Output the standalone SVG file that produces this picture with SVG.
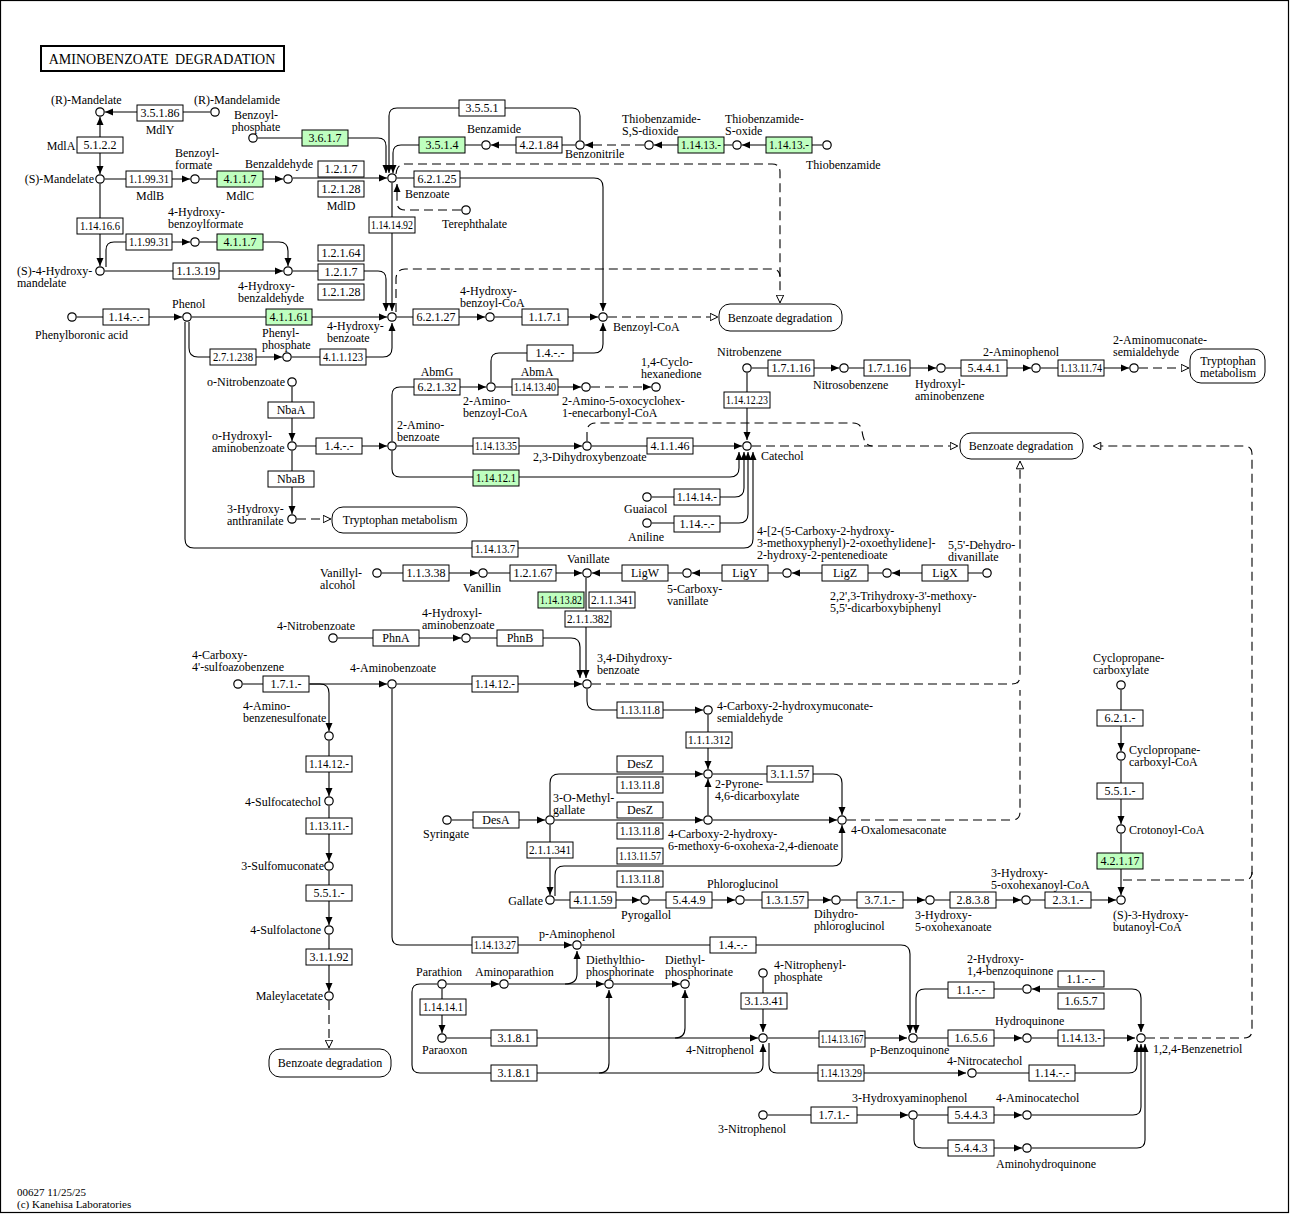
<svg xmlns="http://www.w3.org/2000/svg" width="1291" height="1214" viewBox="0 0 1291 1214">
<style>
text{font-family:"Liberation Serif","Times New Roman",serif;font-size:12px;fill:#000}
.c{fill:#fff;stroke:#000;stroke-width:1.2}
.e rect{fill:#fff;stroke:#000;stroke-width:1}
.g rect{fill:#bfffbf}
.e text{text-anchor:middle}
.m rect{fill:#fff;stroke:#000;stroke-width:1}
.m text{text-anchor:middle}
.l{fill:none;stroke:#000;stroke-width:1.1}
.d{stroke-dasharray:9 5}
.ar{marker-end:url(#a)}
.ao{marker-end:url(#o)}
.mid{text-anchor:middle}
.end{text-anchor:end}
</style>
<defs>
<marker id="a" markerWidth="9" markerHeight="8" refX="8" refY="4" orient="auto" markerUnits="userSpaceOnUse"><path d="M0,0.5 L8,4 L0,7.5z" fill="#000"/></marker>
<marker id="o" markerWidth="10" markerHeight="9" refX="8.5" refY="4.5" orient="auto" markerUnits="userSpaceOnUse"><path d="M0.7,0.8 L8.3,4.5 L0.7,8.2z" fill="#fff" stroke="#000" stroke-width="1"/></marker>
</defs>
<rect x="0.5" y="0.5" width="1288" height="1212" fill="#fff" stroke="#000" stroke-width="1.2"/>
<g id="title"><rect x="41" y="46" width="243" height="25" fill="#fff" stroke="#000" stroke-width="2"/><text x="162" y="64" class="mid" style="font-size:14px;word-spacing:3px">AMINOBENZOATE DEGRADATION</text></g>

<g id="connectors">
<path class="l ar" d="M210 112H105"/>
<path class="l ar" d="M100 145V117"/>
<path class="l ar" d="M100 145V174"/>
<path class="l ar" d="M105 179H190"/>
<path class="l ar" d="M200 179H283"/>
<path class="l ar" d="M293 178H387"/>
<path class="l ar" d="M100 184V266"/>
<path class="l ar" d="M106 267V250Q106 242 114 242H190"/>
<path class="l ar" d="M200 242H279Q288 242 288 251V266"/>
<path class="l ar" d="M105 271H283"/>
<path class="l ar" d="M258 138H378Q386 138 386 146V173"/>
<path class="l ar" d="M580 140V116Q580 108 572 108H397Q389 108 389 116V173"/>
<path class="l ar" d="M481 145H401Q393 145 393 153V173"/>
<path class="l ar" d="M575 145H491"/>
<path class="l d ar" d="M644 145H585"/>
<path class="l ar" d="M732 145H654"/>
<path class="l ar" d="M822 145H742"/>
<path class="l d ar" d="M461 210H405Q397 210 397 202V184"/>
<path class="l ar" d="M397 178H594Q603 178 603 187V311"/>
<path class="l ar" d="M392 183V311"/>
<path class="l ar" d="M293 271H378Q386 271 386 279V311"/>
<path class="l ar" d="M77 317H182"/>
<path class="l ar" d="M192 317H387"/>
<path class="l ar" d="M189 322V348Q189 357 198 357H282"/>
<path class="l ar" d="M292 357H383Q392 357 392 348V323"/>
<path class="l ar" d="M185 322V539Q185 548 194 548H744Q753 548 753 539V452"/>
<path class="l ar" d="M397 317H485"/>
<path class="l ar" d="M495 317H598"/>
<path class="l d ao" d="M608 317H718"/>
<path class="l d ao" d="M396 174Q397 164 405 164H772Q780 164 780 172V303"/>
<path class="l d" d="M396 312V278Q397 269 405 269H772Q780 269 780 277"/>
<path class="l ar" d="M491 382V361Q491 353 499 353H594Q603 353 603 344V323"/>
<path class="l ar" d="M392 441V395Q392 387 400 387H486"/>
<path class="l ar" d="M496 387H581"/>
<path class="l d ar" d="M591 387H651"/>
<path class="l ar" d="M292 387V441"/>
<path class="l ar" d="M297 446H387"/>
<path class="l ar" d="M292 451V514"/>
<path class="l d ao" d="M297 519H331"/>
<path class="l ar" d="M397 446H582"/>
<path class="l ar" d="M392 451V469Q392 477 400 477H730Q739 477 739 468V452"/>
<path class="l ar" d="M592 446H742"/>
<path class="l d" d="M587 441V432Q587 423 596 423H853Q861 423 862 431Q864 446 872 446"/>
<path class="l d ao" d="M752 446H958"/>
<path class="l ar" d="M652 497H735Q744 497 744 488V452"/>
<path class="l ar" d="M652 523H739Q748 523 748 514V452"/>
<path class="l ar" d="M747 373V440"/>
<path class="l ar" d="M752 368H839"/>
<path class="l ar" d="M849 368H936"/>
<path class="l ar" d="M946 368H1031"/>
<path class="l ar" d="M1041 368H1129"/>
<path class="l d ao" d="M1139 368H1189"/>
<path class="l ar" d="M382 573H478"/>
<path class="l ar" d="M488 573H582"/>
<path class="l ar" d="M682 573H592"/>
<path class="l ar" d="M782 573H692"/>
<path class="l ar" d="M882 573H792"/>
<path class="l ar" d="M982 573H892"/>
<path class="l ar" d="M586 578V678"/>
<path class="l ar" d="M338 638H461"/>
<path class="l ar" d="M471 638H571Q580 638 580 647V678"/>
<path class="l ar" d="M243 684H387"/>
<path class="l ar" d="M310 684H320Q329 684 329 693V731"/>
<path class="l ar" d="M329 741V796"/>
<path class="l ar" d="M329 806V861"/>
<path class="l ar" d="M329 871V925"/>
<path class="l ar" d="M329 935V991"/>
<path class="l d ao" d="M329 1001V1048"/>
<path class="l ar" d="M397 684H582"/>
<path class="l d ao" d="M592 684H1012Q1020 684 1020 676V461"/>
<path class="l ar" d="M587 689V701Q587 710 596 710H703"/>
<path class="l ar" d="M708 715V769"/>
<path class="l ar" d="M550 815V783Q550 774 559 774H703"/>
<path class="l ar" d="M452 820H545"/>
<path class="l ar" d="M555 820H703"/>
<path class="l ar" d="M708 815V779"/>
<path class="l ar" d="M713 820H837"/>
<path class="l ar" d="M713 774H833Q842 774 842 783V815"/>
<path class="l ar" d="M550 825V895"/>
<path class="l ar" d="M555 896V875Q555 866 564 866H833Q842 866 842 857V825"/>
<path class="l d" d="M847 820H1012Q1020 820 1020 812V690"/>
<path class="l ar" d="M555 900H640"/>
<path class="l ar" d="M650 900H735"/>
<path class="l ar" d="M745 900H831"/>
<path class="l ar" d="M841 900H925"/>
<path class="l ar" d="M935 900H1021"/>
<path class="l ar" d="M1031 900H1116"/>
<path class="l ar" d="M1121 690V751"/>
<path class="l ar" d="M1121 761V824"/>
<path class="l ar" d="M1121 834V895"/>
<path class="l d" d="M1123 880H1244Q1252 880 1252 872"/>
<path class="l d ao" d="M1146 1038H1244Q1252 1038 1252 1030V454Q1252 446 1244 446H1093"/>
<path class="l ar" d="M392 689V937Q392 945 400 945H572"/>
<path class="l ar" d="M582 945H901Q910 945 910 954V1033"/>
<path class="l ar" d="M447 984H499"/>
<path class="l ar" d="M509 984H604"/>
<path class="l ar" d="M565 984Q577 984 577 974V951"/>
<path class="l ar" d="M614 984H680"/>
<path class="l ar" d="M442 989V1033"/>
<path class="l ar" d="M447 1038H758"/>
<path class="l ar" d="M675 1038Q685 1038 685 1028V990"/>
<path class="l ar" d="M437 984H420Q412 984 412 992V1065Q412 1073 420 1073H755Q763 1073 763 1065V1044"/>
<path class="l ar" d="M599 1073Q609 1073 609 1063V990"/>
<path class="l ar" d="M763 978V1032"/>
<path class="l ar" d="M768 1038H907"/>
<path class="l ar" d="M769 1043V1065Q769 1073 777 1073H966"/>
<path class="l ar" d="M918 1038H1022"/>
<path class="l ar" d="M1032 1038H1135"/>
<path class="l ar" d="M977 1073H1129Q1137 1073 1137 1065V1044"/>
<path class="l ar" d="M1022 989H925Q916 989 916 998V1033"/>
<path class="l ar" d="M1100 989H1132Q1141 989 1141 998V1032"/>
<path class="l ar" d="M1100 989H1032"/>
<path class="l ar" d="M768 1115H908"/>
<path class="l ar" d="M918 1115H1022"/>
<path class="l ar" d="M914 1120V1140Q914 1148 922 1148H1022"/>
<path class="l ar" d="M1032 1115H1133Q1141 1115 1141 1107V1044"/>
<path class="l ar" d="M1032 1148H1137Q1145 1148 1145 1140V1044"/>
</g>

<g id="maps">
<g id="m_benzoate1" class="m"><rect x="719" y="304" width="123" height="27" rx="11"/><text x="780" y="322">Benzoate degradation</text></g>
<g id="m_trp1" class="m"><rect x="1190" y="349" width="75" height="34" rx="11"/><text x="1228" y="365">Tryptophan<tspan x="1228" dy="12">metabolism</tspan></text></g>
<g id="m_benzoate2" class="m"><rect x="960" y="433" width="123" height="26" rx="11"/><text x="1021" y="450">Benzoate degradation</text></g>
<g id="m_trp2" class="m"><rect x="332" y="507" width="135" height="26" rx="11"/><text x="400" y="524">Tryptophan metabolism</text></g>
<g id="m_benzoate3" class="m"><rect x="269" y="1049" width="122" height="28" rx="11"/><text x="330" y="1067">Benzoate degradation</text></g>
</g>

<g id="enzymes">
<g id="e_3.5.1.86" class="e"><rect x="137" y="105" width="46" height="16"/><text x="160" y="117">3.5.1.86</text><text x="160" y="134">MdlY</text></g>
<g id="e_5.1.2.2" class="e"><rect x="77" y="137" width="46" height="16"/><text x="100" y="149">5.1.2.2</text><text x="61" y="150">MdlA</text></g>
<g id="e_1.1.99.31a" class="e"><rect x="126" y="171" width="46" height="16"/><text x="149" y="183" textLength="40" lengthAdjust="spacingAndGlyphs">1.1.99.31</text><text x="150" y="200">MdlB</text></g>
<g id="e_4.1.1.7a" class="e g"><rect x="217" y="171" width="46" height="16"/><text x="240" y="183">4.1.1.7</text><text x="240" y="200">MdlC</text></g>
<g id="e_1.2.1.7a" class="e"><rect x="318" y="161" width="46" height="16"/><text x="341" y="173">1.2.1.7</text></g>
<g id="e_1.2.1.28a" class="e"><rect x="318" y="181" width="46" height="16"/><text x="341" y="193">1.2.1.28</text><text x="341" y="210">MdlD</text></g>
<g id="e_3.6.1.7" class="e g"><rect x="302" y="130" width="46" height="16"/><text x="325" y="142">3.6.1.7</text></g>
<g id="e_3.5.5.1" class="e"><rect x="459" y="100" width="46" height="16"/><text x="482" y="112">3.5.5.1</text></g>
<g id="e_3.5.1.4" class="e g"><rect x="419" y="137" width="46" height="16"/><text x="442" y="149">3.5.1.4</text></g>
<g id="e_4.2.1.84" class="e"><rect x="516" y="137" width="46" height="16"/><text x="539" y="149">4.2.1.84</text></g>
<g id="e_1.14.13.a" class="e g"><rect x="678" y="137" width="46" height="16"/><text x="701" y="149" textLength="40" lengthAdjust="spacingAndGlyphs">1.14.13.-</text></g>
<g id="e_1.14.13.b" class="e g"><rect x="766" y="137" width="46" height="16"/><text x="789" y="149" textLength="40" lengthAdjust="spacingAndGlyphs">1.14.13.-</text></g>
<g id="e_6.2.1.25" class="e"><rect x="414" y="171" width="46" height="16"/><text x="437" y="183">6.2.1.25</text></g>
<g id="e_1.14.16.6" class="e"><rect x="77" y="218" width="46" height="16"/><text x="100" y="230" textLength="40" lengthAdjust="spacingAndGlyphs">1.14.16.6</text></g>
<g id="e_1.1.99.31b" class="e"><rect x="126" y="234" width="46" height="16"/><text x="149" y="246" textLength="40" lengthAdjust="spacingAndGlyphs">1.1.99.31</text></g>
<g id="e_4.1.1.7b" class="e g"><rect x="217" y="234" width="46" height="16"/><text x="240" y="246">4.1.1.7</text></g>
<g id="e_1.1.3.19" class="e"><rect x="173" y="263" width="46" height="16"/><text x="196" y="275">1.1.3.19</text></g>
<g id="e_1.2.1.64" class="e"><rect x="318" y="245" width="46" height="16"/><text x="341" y="257">1.2.1.64</text></g>
<g id="e_1.2.1.7b" class="e"><rect x="318" y="264" width="46" height="16"/><text x="341" y="276">1.2.1.7</text></g>
<g id="e_1.2.1.28b" class="e"><rect x="318" y="284" width="46" height="16"/><text x="341" y="296">1.2.1.28</text></g>
<g id="e_1.14.14.92" class="e"><rect x="369" y="217" width="46" height="16"/><text x="392" y="229" textLength="42" lengthAdjust="spacingAndGlyphs">1.14.14.92</text></g>
<g id="e_1.14.x.x" class="e"><rect x="103" y="309" width="46" height="16"/><text x="126" y="321">1.14.-.-</text></g>
<g id="e_4.1.1.61" class="e g"><rect x="266" y="309" width="46" height="16"/><text x="289" y="321">4.1.1.61</text></g>
<g id="e_6.2.1.27" class="e"><rect x="413" y="309" width="46" height="16"/><text x="436" y="321">6.2.1.27</text></g>
<g id="e_1.1.7.1" class="e"><rect x="522" y="309" width="46" height="16"/><text x="545" y="321">1.1.7.1</text></g>
<g id="e_2.7.1.238" class="e"><rect x="210" y="349" width="46" height="16"/><text x="233" y="361" textLength="40" lengthAdjust="spacingAndGlyphs">2.7.1.238</text></g>
<g id="e_4.1.1.123" class="e"><rect x="320" y="349" width="46" height="16"/><text x="343" y="361" textLength="40" lengthAdjust="spacingAndGlyphs">4.1.1.123</text></g>
<g id="e_1.4.x.xa" class="e"><rect x="527" y="345" width="46" height="16"/><text x="550" y="357">1.4.-.-</text></g>
<g id="e_6.2.1.32" class="e"><rect x="414" y="379" width="46" height="16"/><text x="437" y="391">6.2.1.32</text><text x="437" y="376">AbmG</text></g>
<g id="e_1.14.13.40" class="e"><rect x="512" y="379" width="46" height="16"/><text x="535" y="391" textLength="42" lengthAdjust="spacingAndGlyphs">1.14.13.40</text><text x="537" y="376">AbmA</text></g>
<g id="e_NbaA" class="e"><rect x="268" y="402" width="46" height="16"/><text x="291" y="414">NbaA</text></g>
<g id="e_1.4.x.xb" class="e"><rect x="316" y="438" width="46" height="16"/><text x="339" y="450">1.4.-.-</text></g>
<g id="e_1.14.13.35" class="e"><rect x="473" y="438" width="46" height="16"/><text x="496" y="450" textLength="42" lengthAdjust="spacingAndGlyphs">1.14.13.35</text></g>
<g id="e_4.1.1.46" class="e"><rect x="647" y="438" width="46" height="16"/><text x="670" y="450">4.1.1.46</text></g>
<g id="e_1.14.12.1" class="e g"><rect x="473" y="470" width="46" height="16"/><text x="496" y="482" textLength="40" lengthAdjust="spacingAndGlyphs">1.14.12.1</text></g>
<g id="e_NbaB" class="e"><rect x="268" y="471" width="46" height="16"/><text x="291" y="483">NbaB</text></g>
<g id="e_1.14.14.x" class="e"><rect x="674" y="489" width="46" height="16"/><text x="697" y="501" textLength="40" lengthAdjust="spacingAndGlyphs">1.14.14.-</text></g>
<g id="e_1.14.x.xb" class="e"><rect x="674" y="516" width="46" height="16"/><text x="697" y="528">1.14.-.-</text></g>
<g id="e_1.14.13.7" class="e"><rect x="472" y="541" width="46" height="16"/><text x="495" y="553" textLength="40" lengthAdjust="spacingAndGlyphs">1.14.13.7</text></g>
<g id="e_1.14.12.23" class="e"><rect x="724" y="392" width="46" height="16"/><text x="747" y="404" textLength="42" lengthAdjust="spacingAndGlyphs">1.14.12.23</text></g>
<g id="e_1.7.1.16a" class="e"><rect x="768" y="360" width="46" height="16"/><text x="791" y="372">1.7.1.16</text></g>
<g id="e_1.7.1.16b" class="e"><rect x="864" y="360" width="46" height="16"/><text x="887" y="372">1.7.1.16</text></g>
<g id="e_5.4.4.1" class="e"><rect x="961" y="360" width="46" height="16"/><text x="984" y="372">5.4.4.1</text></g>
<g id="e_1.13.11.74" class="e"><rect x="1058" y="360" width="46" height="16"/><text x="1081" y="372" textLength="42" lengthAdjust="spacingAndGlyphs">1.13.11.74</text></g>
<g id="e_1.1.3.38" class="e"><rect x="403" y="565" width="46" height="16"/><text x="426" y="577">1.1.3.38</text></g>
<g id="e_1.2.1.67" class="e"><rect x="510" y="565" width="46" height="16"/><text x="533" y="577">1.2.1.67</text></g>
<g id="e_LigW" class="e"><rect x="622" y="565" width="46" height="16"/><text x="645" y="577">LigW</text></g>
<g id="e_LigY" class="e"><rect x="722" y="565" width="46" height="16"/><text x="745" y="577">LigY</text></g>
<g id="e_LigZ" class="e"><rect x="822" y="565" width="46" height="16"/><text x="845" y="577">LigZ</text></g>
<g id="e_LigX" class="e"><rect x="922" y="565" width="46" height="16"/><text x="945" y="577">LigX</text></g>
<g id="e_1.14.13.82" class="e g"><rect x="538" y="592" width="46" height="16"/><text x="561" y="604" textLength="42" lengthAdjust="spacingAndGlyphs">1.14.13.82</text></g>
<g id="e_2.1.1.341a" class="e"><rect x="589" y="592" width="46" height="16"/><text x="612" y="604" textLength="42" lengthAdjust="spacingAndGlyphs">2.1.1.341</text></g>
<g id="e_2.1.1.382" class="e"><rect x="565" y="611" width="46" height="16"/><text x="588" y="623" textLength="42" lengthAdjust="spacingAndGlyphs">2.1.1.382</text></g>
<g id="e_PhnA" class="e"><rect x="373" y="630" width="46" height="16"/><text x="396" y="642">PhnA</text></g>
<g id="e_PhnB" class="e"><rect x="497" y="630" width="46" height="16"/><text x="520" y="642">PhnB</text></g>
<g id="e_1.7.1.xa" class="e"><rect x="263" y="676" width="46" height="16"/><text x="286" y="688">1.7.1.-</text></g>
<g id="e_1.14.12.xa" class="e"><rect x="472" y="676" width="46" height="16"/><text x="495" y="688" textLength="40" lengthAdjust="spacingAndGlyphs">1.14.12.-</text></g>
<g id="e_1.14.12.xb" class="e"><rect x="306" y="756" width="46" height="16"/><text x="329" y="768" textLength="40" lengthAdjust="spacingAndGlyphs">1.14.12.-</text></g>
<g id="e_1.13.11.x" class="e"><rect x="306" y="818" width="46" height="16"/><text x="329" y="830" textLength="40" lengthAdjust="spacingAndGlyphs">1.13.11.-</text></g>
<g id="e_5.5.1.xa" class="e"><rect x="306" y="885" width="46" height="16"/><text x="329" y="897">5.5.1.-</text></g>
<g id="e_3.1.1.92" class="e"><rect x="306" y="949" width="46" height="16"/><text x="329" y="961">3.1.1.92</text></g>
<g id="e_1.13.11.8a" class="e"><rect x="617" y="702" width="46" height="16"/><text x="640" y="714" textLength="40" lengthAdjust="spacingAndGlyphs">1.13.11.8</text></g>
<g id="e_1.1.1.312" class="e"><rect x="686" y="732" width="46" height="16"/><text x="709" y="744" textLength="42" lengthAdjust="spacingAndGlyphs">1.1.1.312</text></g>
<g id="e_DesZa" class="e"><rect x="617" y="756" width="46" height="16"/><text x="640" y="768">DesZ</text></g>
<g id="e_1.13.11.8b" class="e"><rect x="617" y="777" width="46" height="16"/><text x="640" y="789" textLength="40" lengthAdjust="spacingAndGlyphs">1.13.11.8</text></g>
<g id="e_3.1.1.57" class="e"><rect x="767" y="766" width="46" height="16"/><text x="790" y="778">3.1.1.57</text></g>
<g id="e_DesA" class="e"><rect x="473" y="812" width="46" height="16"/><text x="496" y="824">DesA</text></g>
<g id="e_DesZb" class="e"><rect x="617" y="802" width="46" height="16"/><text x="640" y="814">DesZ</text></g>
<g id="e_1.13.11.8c" class="e"><rect x="617" y="823" width="46" height="16"/><text x="640" y="835" textLength="40" lengthAdjust="spacingAndGlyphs">1.13.11.8</text></g>
<g id="e_2.1.1.341b" class="e"><rect x="527" y="842" width="46" height="16"/><text x="550" y="854" textLength="42" lengthAdjust="spacingAndGlyphs">2.1.1.341</text></g>
<g id="e_1.13.11.57" class="e"><rect x="617" y="848" width="46" height="16"/><text x="640" y="860" textLength="42" lengthAdjust="spacingAndGlyphs">1.13.11.57</text></g>
<g id="e_1.13.11.8d" class="e"><rect x="617" y="871" width="46" height="16"/><text x="640" y="883" textLength="40" lengthAdjust="spacingAndGlyphs">1.13.11.8</text></g>
<g id="e_4.1.1.59" class="e"><rect x="570" y="892" width="46" height="16"/><text x="593" y="904">4.1.1.59</text></g>
<g id="e_5.4.4.9" class="e"><rect x="666" y="892" width="46" height="16"/><text x="689" y="904">5.4.4.9</text></g>
<g id="e_1.3.1.57" class="e"><rect x="762" y="892" width="46" height="16"/><text x="785" y="904">1.3.1.57</text></g>
<g id="e_3.7.1.x" class="e"><rect x="857" y="892" width="46" height="16"/><text x="880" y="904">3.7.1.-</text></g>
<g id="e_2.8.3.8" class="e"><rect x="950" y="892" width="46" height="16"/><text x="973" y="904">2.8.3.8</text></g>
<g id="e_2.3.1.x" class="e"><rect x="1045" y="892" width="46" height="16"/><text x="1068" y="904">2.3.1.-</text></g>
<g id="e_6.2.1.x" class="e"><rect x="1097" y="710" width="46" height="16"/><text x="1120" y="722">6.2.1.-</text></g>
<g id="e_5.5.1.xb" class="e"><rect x="1097" y="783" width="46" height="16"/><text x="1120" y="795">5.5.1.-</text></g>
<g id="e_4.2.1.17" class="e g"><rect x="1097" y="853" width="46" height="16"/><text x="1120" y="865">4.2.1.17</text></g>
<g id="e_1.14.13.27" class="e"><rect x="472" y="937" width="46" height="16"/><text x="495" y="949" textLength="42" lengthAdjust="spacingAndGlyphs">1.14.13.27</text></g>
<g id="e_1.4.x.xc" class="e"><rect x="710" y="937" width="46" height="16"/><text x="733" y="949">1.4.-.-</text></g>
<g id="e_1.14.14.1" class="e"><rect x="420" y="999" width="46" height="16"/><text x="443" y="1011" textLength="40" lengthAdjust="spacingAndGlyphs">1.14.14.1</text></g>
<g id="e_3.1.8.1a" class="e"><rect x="491" y="1030" width="46" height="16"/><text x="514" y="1042">3.1.8.1</text></g>
<g id="e_3.1.8.1b" class="e"><rect x="491" y="1065" width="46" height="16"/><text x="514" y="1077">3.1.8.1</text></g>
<g id="e_3.1.3.41" class="e"><rect x="741" y="993" width="46" height="16"/><text x="764" y="1005">3.1.3.41</text></g>
<g id="e_1.14.13.167" class="e"><rect x="819" y="1031" width="46" height="16"/><text x="842" y="1043" textLength="43" lengthAdjust="spacingAndGlyphs">1.14.13.167</text></g>
<g id="e_1.14.13.29" class="e"><rect x="818" y="1065" width="46" height="16"/><text x="841" y="1077" textLength="42" lengthAdjust="spacingAndGlyphs">1.14.13.29</text></g>
<g id="e_1.1.x.xa" class="e"><rect x="948" y="982" width="46" height="16"/><text x="971" y="994">1.1.-.-</text></g>
<g id="e_1.1.x.xb" class="e"><rect x="1058" y="971" width="46" height="16"/><text x="1081" y="983">1.1.-.-</text></g>
<g id="e_1.6.5.7" class="e"><rect x="1058" y="993" width="46" height="16"/><text x="1081" y="1005">1.6.5.7</text></g>
<g id="e_1.6.5.6" class="e"><rect x="948" y="1030" width="46" height="16"/><text x="971" y="1042">1.6.5.6</text></g>
<g id="e_1.14.13.xc" class="e"><rect x="1058" y="1030" width="46" height="16"/><text x="1081" y="1042" textLength="40" lengthAdjust="spacingAndGlyphs">1.14.13.-</text></g>
<g id="e_1.14.x.xc" class="e"><rect x="1029" y="1065" width="46" height="16"/><text x="1052" y="1077">1.14.-.-</text></g>
<g id="e_1.7.1.xb" class="e"><rect x="811" y="1107" width="46" height="16"/><text x="834" y="1119">1.7.1.-</text></g>
<g id="e_5.4.4.3a" class="e"><rect x="948" y="1107" width="46" height="16"/><text x="971" y="1119">5.4.4.3</text></g>
<g id="e_5.4.4.3b" class="e"><rect x="948" y="1140" width="46" height="16"/><text x="971" y="1152">5.4.4.3</text></g>
</g>

<g id="compounds">
<g id="c_R_mandelate"><circle class="c" cx="100" cy="112" r="4.2"/><text x="51" y="104">(R)-Mandelate</text></g>
<g id="c_R_mandelamide"><circle class="c" cx="215" cy="112" r="4.2"/><text x="194" y="104">(R)-Mandelamide</text></g>
<g id="c_benzoylphosphate"><circle class="c" cx="253" cy="138" r="4.2"/><text x="256" y="119" class="mid">Benzoyl-<tspan x="256" dy="12">phosphate</tspan></text></g>
<g id="c_S_mandelate"><circle class="c" cx="100" cy="179" r="4.2"/><text x="94" y="183" class="end">(S)-Mandelate</text></g>
<g id="c_benzoylformate"><circle class="c" cx="195" cy="179" r="4.2"/><text x="175" y="157">Benzoyl-<tspan x="175" dy="12">formate</tspan></text></g>
<g id="c_benzaldehyde"><circle class="c" cx="288" cy="179" r="4.2"/><text x="245" y="168">Benzaldehyde</text></g>
<g id="c_benzoate"><circle class="c" cx="392" cy="178" r="4.2"/><text x="405" y="198">Benzoate</text></g>
<g id="c_benzamide"><circle class="c" cx="486" cy="145" r="4.2"/><text x="467" y="133">Benzamide</text></g>
<g id="c_benzonitrile"><circle class="c" cx="580" cy="145" r="4.2"/><text x="565" y="158">Benzonitrile</text></g>
<g id="c_tbssd"><circle class="c" cx="649" cy="145" r="4.2"/><text x="622" y="123">Thiobenzamide-<tspan x="622" dy="12">S,S-dioxide</tspan></text></g>
<g id="c_tbso"><circle class="c" cx="737" cy="145" r="4.2"/><text x="725" y="123">Thiobenzamide-<tspan x="725" dy="12">S-oxide</tspan></text></g>
<g id="c_thiobenzamide"><circle class="c" cx="827" cy="145" r="4.2"/><text x="806" y="169">Thiobenzamide</text></g>
<g id="c_terephthalate"><circle class="c" cx="466" cy="210" r="4.2"/><text x="442" y="228">Terephthalate</text></g>
<g id="c_4hbf"><circle class="c" cx="195" cy="242" r="4.2"/><text x="168" y="216">4-Hydroxy-<tspan x="168" dy="12">benzoylformate</tspan></text></g>
<g id="c_S4hm"><circle class="c" cx="100" cy="271" r="4.2"/><text x="17" y="275">(S)-4-Hydroxy-<tspan x="17" dy="12">mandelate</tspan></text></g>
<g id="c_4hbald"><circle class="c" cx="288" cy="271" r="4.2"/><text x="238" y="290">4-Hydroxy-<tspan x="238" dy="12">benzaldehyde</tspan></text></g>
<g id="c_phenylboronic"><circle class="c" cx="72" cy="317" r="4.2"/><text x="35" y="339">Phenylboronic acid</text></g>
<g id="c_phenol"><circle class="c" cx="187" cy="317" r="4.2"/><text x="172" y="308">Phenol</text></g>
<g id="c_4hb"><circle class="c" cx="392" cy="317" r="4.2"/><text x="327" y="330">4-Hydroxy-<tspan x="327" dy="12">benzoate</tspan></text></g>
<g id="c_4hbcoa"><circle class="c" cx="490" cy="317" r="4.2"/><text x="460" y="295">4-Hydroxy-<tspan x="460" dy="12">benzoyl-CoA</tspan></text></g>
<g id="c_benzoylcoa"><circle class="c" cx="603" cy="317" r="4.2"/><text x="613" y="331">Benzoyl-CoA</text></g>
<g id="c_phenylphosphate"><circle class="c" cx="287" cy="357" r="4.2"/><text x="262" y="337">Phenyl-<tspan x="262" dy="12">phosphate</tspan></text></g>
<g id="c_2abcoa"><circle class="c" cx="491" cy="387" r="4.2"/><text x="463" y="405">2-Amino-<tspan x="463" dy="12">benzoyl-CoA</tspan></text></g>
<g id="c_2a5o"><circle class="c" cx="586" cy="387" r="4.2"/><text x="562" y="405">2-Amino-5-oxocyclohex-<tspan x="562" dy="12">1-enecarbonyl-CoA</tspan></text></g>
<g id="c_14chd"><circle class="c" cx="656" cy="387" r="4.2"/><text x="641" y="366">1,4-Cyclo-<tspan x="641" dy="12">hexanedione</tspan></text></g>
<g id="c_onb"><circle class="c" cx="292" cy="382" r="4.2"/><text x="285" y="386" class="end">o-Nitrobenzoate</text></g>
<g id="c_ohab"><circle class="c" cx="292" cy="446" r="4.2"/><text x="212" y="440">o-Hydroxyl-<tspan x="212" dy="12">aminobenzoate</tspan></text></g>
<g id="c_2ab"><circle class="c" cx="392" cy="446" r="4.2"/><text x="397" y="429">2-Amino-<tspan x="397" dy="12">benzoate</tspan></text></g>
<g id="c_23dhb"><circle class="c" cx="587" cy="446" r="4.2"/><text x="533" y="461">2,3-Dihydroxybenzoate</text></g>
<g id="c_catechol"><circle class="c" cx="747" cy="446" r="4.2"/><text x="761" y="460">Catechol</text></g>
<g id="c_3haa"><circle class="c" cx="292" cy="519" r="4.2"/><text x="227" y="513">3-Hydroxy-<tspan x="227" dy="12">anthranilate</tspan></text></g>
<g id="c_guaiacol"><circle class="c" cx="647" cy="497" r="4.2"/><text x="624" y="513">Guaiacol</text></g>
<g id="c_aniline"><circle class="c" cx="647" cy="523" r="4.2"/><text x="628" y="541">Aniline</text></g>
<g id="c_nitrobenzene"><circle class="c" cx="747" cy="368" r="4.2"/><text x="717" y="356">Nitrobenzene</text></g>
<g id="c_nitrosobenzene"><circle class="c" cx="844" cy="368" r="4.2"/><text x="813" y="389">Nitrosobenzene</text></g>
<g id="c_hab"><circle class="c" cx="941" cy="368" r="4.2"/><text x="915" y="388">Hydroxyl-<tspan x="915" dy="12">aminobenzene</tspan></text></g>
<g id="c_2ap"><circle class="c" cx="1036" cy="368" r="4.2"/><text x="983" y="356">2-Aminophenol</text></g>
<g id="c_2ams"><circle class="c" cx="1134" cy="368" r="4.2"/><text x="1113" y="344">2-Aminomuconate-<tspan x="1113" dy="12">semialdehyde</tspan></text></g>
<g id="c_cmpd_lig"><circle class="c" cx="787" cy="573" r="4.2"/><text x="757" y="535">4-[2-(5-Carboxy-2-hydroxy-<tspan x="757" dy="12">3-methoxyphenyl)-2-oxoethylidene]-</tspan><tspan x="757" dy="12">2-hydroxy-2-pentenedioate</tspan></text></g>
<g id="c_ddv"><circle class="c" cx="987" cy="573" r="4.2"/><text x="948" y="549">5,5'-Dehydro-<tspan x="948" dy="12">divanillate</tspan></text></g>
<g id="c_valc"><circle class="c" cx="377" cy="573" r="4.2"/><text x="320" y="577">Vanillyl-<tspan x="320" dy="12">alcohol</tspan></text></g>
<g id="c_vanillin"><circle class="c" cx="483" cy="573" r="4.2"/><text x="463" y="592">Vanillin</text></g>
<g id="c_vanillate"><circle class="c" cx="587" cy="573" r="4.2"/><text x="567" y="563">Vanillate</text></g>
<g id="c_5cv"><circle class="c" cx="687" cy="573" r="4.2"/><text x="667" y="593">5-Carboxy-<tspan x="667" dy="12">vanillate</tspan></text></g>
<g id="c_thmdb"><circle class="c" cx="887" cy="573" r="4.2"/><text x="830" y="600">2,2',3-Trihydroxy-3'-methoxy-<tspan x="830" dy="12">5,5'-dicarboxybiphenyl</tspan></text></g>
<g id="c_4nb"><circle class="c" cx="333" cy="638" r="4.2"/><text x="277" y="630">4-Nitrobenzoate</text></g>
<g id="c_4hab"><circle class="c" cx="466" cy="638" r="4.2"/><text x="422" y="617">4-Hydroxyl-<tspan x="422" dy="12">aminobenzoate</tspan></text></g>
<g id="c_34dhb"><circle class="c" cx="587" cy="684" r="4.2"/><text x="597" y="662">3,4-Dihydroxy-<tspan x="597" dy="12">benzoate</tspan></text></g>
<g id="c_4c4sab"><circle class="c" cx="238" cy="684" r="4.2"/><text x="192" y="659">4-Carboxy-<tspan x="192" dy="12">4'-sulfoazobenzene</tspan></text></g>
<g id="c_4ab"><circle class="c" cx="392" cy="684" r="4.2"/><text x="350" y="672">4-Aminobenzoate</text></g>
<g id="c_4abs"><circle class="c" cx="329" cy="736" r="4.2"/><text x="243" y="710">4-Amino-<tspan x="243" dy="12">benzenesulfonate</tspan></text></g>
<g id="c_4sc"><circle class="c" cx="329" cy="801" r="4.2"/><text x="321" y="806" class="end">4-Sulfocatechol</text></g>
<g id="c_3sm"><circle class="c" cx="329" cy="866" r="4.2"/><text x="324" y="870" class="end">3-Sulfomuconate</text></g>
<g id="c_4sl"><circle class="c" cx="329" cy="930" r="4.2"/><text x="321" y="934" class="end">4-Sulfolactone</text></g>
<g id="c_maleylacetate"><circle class="c" cx="329" cy="996" r="4.2"/><text x="323" y="1000" class="end">Maleylacetate</text></g>
<g id="c_4c2hms"><circle class="c" cx="708" cy="710" r="4.2"/><text x="717" y="710">4-Carboxy-2-hydroxymuconate-<tspan x="717" dy="12">semialdehyde</tspan></text></g>
<g id="c_pdc"><circle class="c" cx="708" cy="774" r="4.2"/><text x="715" y="788">2-Pyrone-<tspan x="715" dy="12">4,6-dicarboxylate</tspan></text></g>
<g id="c_syringate"><circle class="c" cx="447" cy="820" r="4.2"/><text x="423" y="838">Syringate</text></g>
<g id="c_3omg"><circle class="c" cx="550" cy="820" r="4.2"/><text x="553" y="802">3-O-Methyl-<tspan x="553" dy="12">gallate</tspan></text></g>
<g id="c_chmod"><circle class="c" cx="708" cy="820" r="4.2"/><text x="668" y="838">4-Carboxy-2-hydroxy-<tspan x="668" dy="12">6-methoxy-6-oxohexa-2,4-dienoate</tspan></text></g>
<g id="c_oma"><circle class="c" cx="842" cy="820" r="4.2"/><text x="851" y="834">4-Oxalomesaconate</text></g>
<g id="c_gallate"><circle class="c" cx="550" cy="900" r="4.2"/><text x="543" y="905" class="end">Gallate</text></g>
<g id="c_pyrogallol"><circle class="c" cx="645" cy="900" r="4.2"/><text x="621" y="919">Pyrogallol</text></g>
<g id="c_phloroglucinol"><circle class="c" cx="740" cy="900" r="4.2"/><text x="707" y="888">Phloroglucinol</text></g>
<g id="c_dhpg"><circle class="c" cx="836" cy="900" r="4.2"/><text x="814" y="918">Dihydro-<tspan x="814" dy="12">phloroglucinol</tspan></text></g>
<g id="c_3h5oh"><circle class="c" cx="930" cy="900" r="4.2"/><text x="915" y="919">3-Hydroxy-<tspan x="915" dy="12">5-oxohexanoate</tspan></text></g>
<g id="c_3h5ohcoa"><circle class="c" cx="1026" cy="900" r="4.2"/><text x="991" y="877">3-Hydroxy-<tspan x="991" dy="12">5-oxohexanoyl-CoA</tspan></text></g>
<g id="c_s3hbcoa"><circle class="c" cx="1121" cy="900" r="4.2"/><text x="1113" y="919">(S)-3-Hydroxy-<tspan x="1113" dy="12">butanoyl-CoA</tspan></text></g>
<g id="c_cpc"><circle class="c" cx="1121" cy="685" r="4.2"/><text x="1093" y="662">Cyclopropane-<tspan x="1093" dy="12">carboxylate</tspan></text></g>
<g id="c_cpccoa"><circle class="c" cx="1121" cy="756" r="4.2"/><text x="1129" y="754">Cyclopropane-<tspan x="1129" dy="12">carboxyl-CoA</tspan></text></g>
<g id="c_crotonoylcoa"><circle class="c" cx="1121" cy="829" r="4.2"/><text x="1129" y="834">Crotonoyl-CoA</text></g>
<g id="c_pap"><circle class="c" cx="577" cy="945" r="4.2"/><text x="539" y="938">p-Aminophenol</text></g>
<g id="c_parathion"><circle class="c" cx="442" cy="984" r="4.2"/><text x="416" y="976">Parathion</text></g>
<g id="c_aminoparathion"><circle class="c" cx="504" cy="984" r="4.2"/><text x="475" y="976">Aminoparathion</text></g>
<g id="c_detp"><circle class="c" cx="609" cy="984" r="4.2"/><text x="586" y="964">Diethylthio-<tspan x="586" dy="12">phosphorinate</tspan></text></g>
<g id="c_dep"><circle class="c" cx="685" cy="984" r="4.2"/><text x="665" y="964">Diethyl-<tspan x="665" dy="12">phosphorinate</tspan></text></g>
<g id="c_paraoxon"><circle class="c" cx="442" cy="1038" r="4.2"/><text x="422" y="1054">Paraoxon</text></g>
<g id="c_4npp"><circle class="c" cx="763" cy="973" r="4.2"/><text x="774" y="969">4-Nitrophenyl-<tspan x="774" dy="12">phosphate</tspan></text></g>
<g id="c_4np"><circle class="c" cx="763" cy="1038" r="4.2"/><text x="686" y="1054">4-Nitrophenol</text></g>
<g id="c_pbq"><circle class="c" cx="913" cy="1038" r="4.2"/><text x="870" y="1054">p-Benzoquinone</text></g>
<g id="c_2hbq"><circle class="c" cx="1027" cy="989" r="4.2"/><text x="967" y="963">2-Hydroxy-<tspan x="967" dy="12">1,4-benzoquinone</tspan></text></g>
<g id="c_hq"><circle class="c" cx="1027" cy="1038" r="4.2"/><text x="995" y="1025">Hydroquinone</text></g>
<g id="c_btriol"><circle class="c" cx="1141" cy="1038" r="4.2"/><text x="1153" y="1053">1,2,4-Benzenetriol</text></g>
<g id="c_4nc"><circle class="c" cx="972" cy="1073" r="4.2"/><text x="947" y="1065">4-Nitrocatechol</text></g>
<g id="c_3np"><circle class="c" cx="763" cy="1115" r="4.2"/><text x="718" y="1133">3-Nitrophenol</text></g>
<g id="c_3hap"><circle class="c" cx="913" cy="1115" r="4.2"/><text x="852" y="1102">3-Hydroxyaminophenol</text></g>
<g id="c_4ac"><circle class="c" cx="1027" cy="1115" r="4.2"/><text x="996" y="1102">4-Aminocatechol</text></g>
<g id="c_ahq"><circle class="c" cx="1027" cy="1148" r="4.2"/><text x="996" y="1168">Aminohydroquinone</text></g>
</g>

<g id="footer"><text x="17" y="1196" style="font-size:11px">00627 11/25/25<tspan x="17" dy="12">(c) Kanehisa Laboratories</tspan></text></g>
</svg>
